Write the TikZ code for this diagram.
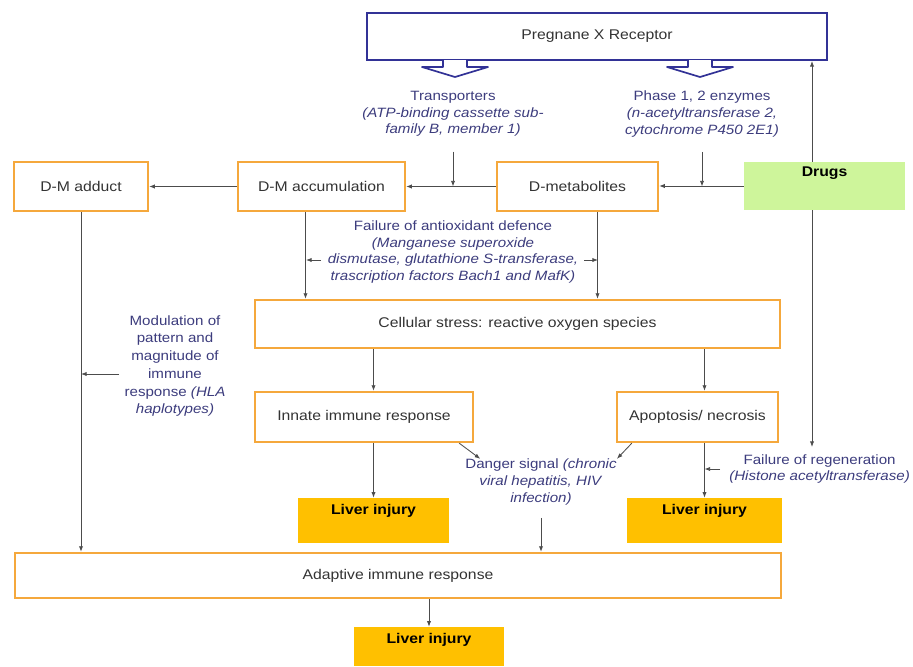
\documentclass[tikz,border=0pt]{standalone}
\usepackage{fontspec}
\setmainfont{Liberation Sans}[FakeStretch=1.12]
\usetikzlibrary{arrows.meta}
\definecolor{pxrblue}{RGB}{50,50,150}
\definecolor{boxorange}{RGB}{245,168,60}
\definecolor{livergold}{RGB}{255,192,0}
\definecolor{druggreen}{RGB}{206,245,155}
\definecolor{notetext}{RGB}{60,60,125}
\begin{document}
\begin{tikzpicture}[x=0.025cm,y=-0.025cm,font=\fontsize{10}{11.8}\selectfont,
box/.style={draw=boxorange,line width=1.6pt,fill=white,text=black!80,inner sep=0pt},
liver/.style={fill=livergold,font=\fontsize{10}{11.8}\selectfont\bfseries,inner sep=0pt,text height=0.4125cm,text depth=0.7125cm},
note/.style={text=notetext,align=center,inner sep=2pt,font=\fontsize{9.6}{11.8}\selectfont},
arr/.style={black!70,line width=0.6pt,-{Latex[length=4pt,width=3pt]}}]
\useasboundingbox (0,0) rectangle (913,666);
\node[draw=pxrblue,line width=1.3pt,fill=white,text=black!80,minimum width=11.5cm,minimum height=1.175cm] (pxr) at (597,36.5) {Pregnane X Receptor};
\foreach \x in {455,700}
\draw[pxrblue,line width=1.2pt,fill=white,line join=round] (\x-12,60) -- (\x-12,67) -- (\x-33,67) -- (\x,77) -- (\x+33,67) -- (\x+12,67) -- (\x+12,60);
\node[note] (trans) at (453,114) {Transporters\\\textit{(ATP-binding cassette sub-}\\\textit{family B, member 1)}};
\node[note] (phase) at (702,114) {Phase 1, 2 enzymes\\\textit{(n-acetyltransferase 2,}\\\textit{cytochrome P450 2E1)}};
\node[box,minimum width=3.35cm,minimum height=1.225cm] (dmadduct) at (81,186.5) {D-M adduct};
\node[box,minimum width=4.175cm,minimum height=1.225cm] (dmacc) at (321.5,186.5) {D-M accumulation};
\node[box,minimum width=4.025cm,minimum height=1.225cm] (dmet) at (577.5,186.5) {D-metabolites};
\node[fill=druggreen,font=\fontsize{10}{11.8}\selectfont\bfseries,inner sep=0pt,minimum width=4.025cm,text height=0.3625cm,text depth=0.8375cm] (drugs) at (824.5,186) {Drugs};
\node[note] (antiox) at (453,252) {Failure of antioxidant defence\\\textit{(Manganese superoxide}\\\textit{dismutase, glutathione S-transferase,}\\\textit{trascription factors Bach1 and MafK)}};
\node[box,minimum width=13.125cm,minimum height=1.2cm] (cellstress) at (517.5,324) {Cellular stress: reactive oxygen species};
\node[note,font=\fontsize{9.6}{12.6}\selectfont] (modul) at (175,366) {Modulation of\\pattern and\\magnitude of\\immune\\response \textit{(HLA}\\\textit{haplotypes)}};
\node[box,minimum width=5.45cm,minimum height=1.25cm] (innate) at (364,417) {Innate immune response};
\node[box,minimum width=4.025cm,minimum height=1.25cm] (apop) at (697.5,417) {Apoptosis/ necrosis};
\node[note] (danger) at (541,482) {Danger signal \textit{(chronic}\\\textit{viral hepatitis, HIV}\\\textit{infection)}};
\node[note,anchor=east] (regen) at (913,469) {Failure of regeneration\\\textit{(Histone acetyltransferase)}};
\node[liver,minimum width=3.775cm] (liverA) at (373.5,520.5) {Liver injury};
\node[liver,minimum width=3.875cm] (liverB) at (704.5,520.5) {Liver injury};
\node[box,minimum width=19.15cm,minimum height=1.125cm] (adaptive) at (398,575.5) {Adaptive immune response};
\node[liver,minimum width=3.75cm,text depth=0.5625cm] (liverC) at (429,646.5) {Liver injury};
\coordinate (rx) at (812,0);
\coordinate (regtop) at (812,447);
\coordinate (al) at (306,260);
\coordinate (ar) at (598,260);
\coordinate (ml) at (81,374);
\draw[arr] (dmet) -- (dmacc);
\draw[arr] (dmacc) -- (dmadduct);
\draw[arr] (drugs.west) -- (drugs.west -| dmet.east);
\draw[arr] (drugs.north -| rx) -- (pxr.south -| rx);
\draw[arr] (drugs.south -| rx) -- (regtop);
\draw[arr] ([yshift=-0.3cm]trans.south) -- (trans.south |- dmet.west);
\draw[arr] ([yshift=-0.3cm]phase.south) -- (phase.south |- dmet.east);
\draw[arr] ([xshift=-0.4cm]dmacc.south) -- ([xshift=-0.4cm]dmacc.south |- cellstress.north);
\draw[arr] ([xshift=0.5cm]dmet.south) -- ([xshift=0.5cm]dmet.south |- cellstress.north);
\draw[arr] ([xshift=0.375cm]al) -- (al);
\draw[arr] ([xshift=-0.35cm]ar) -- (ar);
\draw[arr] (dmadduct.south) -- (dmadduct.south |- adaptive.north);
\draw[arr] ([xshift=0.95cm]ml) -- (ml);
\draw[arr] (cellstress.south -| liverA.north) -- (innate.north -| liverA.north);
\draw[arr] (cellstress.south -| liverB.north) -- (apop.north -| liverB.north);
\draw[arr] (innate.south -| liverA.north) -- (liverA.north);
\draw[arr] (apop.south -| liverB.north) -- (liverB.north);
\draw[arr] ([xshift=-0.375cm]innate.south east) -- ([xshift=0.45cm,yshift=-0.07cm]danger.north west);
\draw[arr] ([xshift=0.4cm]apop.south west) -- ([xshift=-0.07cm,yshift=-0.07cm]danger.north east);
\draw[arr] ([yshift=-0.25cm]danger.south) -- (danger.south |- adaptive.north);
\draw[arr] ([xshift=-0.15cm]regen.west) -- (regen.west -| liverB.north);
\draw[arr] (adaptive.south -| liverC.north) -- (liverC.north);
\end{tikzpicture}
\end{document}
